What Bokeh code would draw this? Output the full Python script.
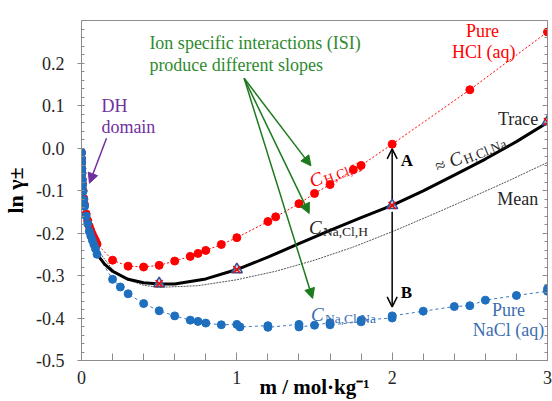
import math
from bokeh.plotting import figure
from bokeh.models import (LinearAxis, Range1d, Arrow, NormalHead, OpenHead,
                          SingleIntervalTicker, PrintfTickFormatter, CustomJSTickFormatter)
from bokeh.embed import file_html
from bokeh.resources import INLINE
from bokeh.core.properties import value

# ---------------- data ----------------
hcl_m = [0.0001, 0.0005, 0.001, 0.002, 0.003, 0.005, 0.007, 0.01, 0.015, 0.02, 0.03, 0.04,
         0.05, 0.06, 0.07, 0.08, 0.09, 0.1, 0.2, 0.3, 0.4, 0.5, 0.6, 0.7, 0.75, 0.8, 0.9,
         1.0, 1.2, 1.25, 1.4, 1.5, 1.6, 1.75, 1.8, 2.0, 2.5, 3.0]
hcl_ln = [-0.011, -0.025, -0.035, -0.049, -0.059, -0.074, -0.085, -0.100, -0.119, -0.134,
          -0.155, -0.171, -0.184, -0.194, -0.203, -0.211, -0.218, -0.226, -0.264, -0.278,
          -0.280, -0.276, -0.266, -0.255, -0.248, -0.241, -0.227, -0.211, -0.173, -0.162,
          -0.131, -0.107, -0.086, -0.051, -0.041, 0.009, 0.137, 0.273]

nacl_m = [0.0001, 0.0005, 0.001, 0.002, 0.003, 0.005, 0.007, 0.01, 0.015, 0.02, 0.03, 0.04,
          0.05, 0.06, 0.07, 0.08, 0.09, 0.1, 0.2, 0.25, 0.3, 0.4, 0.5, 0.6, 0.7, 0.75, 0.8,
          0.9, 1.0, 1.02, 1.2, 1.2, 1.4, 1.4, 1.5, 1.6, 1.6, 1.8, 1.8, 2.0, 2.0, 2.2, 2.4,
          2.5, 2.6, 2.8, 3.0, 3.0]
nacl_ln = [-0.011, -0.025, -0.035, -0.049, -0.059, -0.075, -0.087, -0.102, -0.122, -0.137,
           -0.160, -0.178, -0.196, -0.207, -0.217, -0.227, -0.237, -0.250, -0.309, -0.327,
           -0.343, -0.366, -0.383, -0.395, -0.405, -0.408, -0.412, -0.416, -0.415, -0.421,
           -0.418, -0.422, -0.415, -0.421, -0.417, -0.411, -0.416, -0.409, -0.405, -0.400,
           -0.395, -0.384, -0.373, -0.371, -0.358, -0.347, -0.337, -0.331]

trace_m = [0.0, 0.001, 0.002, 0.005, 0.01, 0.02, 0.05, 0.1, 0.15, 0.2, 0.3, 0.4, 0.5, 0.6,
           0.8, 1.0, 1.2, 1.4, 1.6, 1.8, 2.0, 2.2, 2.4, 2.6, 2.8, 3.0]
trace_ln = [0.0, -0.036, -0.049, -0.075, -0.102, -0.137, -0.196, -0.250, -0.274, -0.290,
            -0.309, -0.317, -0.320, -0.320, -0.308, -0.286, -0.257, -0.225, -0.194, -0.164,
            -0.135, -0.101, -0.064, -0.026, 0.015, 0.060]

mean_m = [0.0, 0.001, 0.002, 0.005, 0.01, 0.02, 0.05, 0.1, 0.2, 0.3, 0.4, 0.5, 0.75, 1.0,
          1.25, 1.5, 1.75, 2.0, 2.25, 2.5, 2.75, 3.0]
mean_ln = [0.0, -0.036, -0.049, -0.075, -0.101, -0.136, -0.190, -0.238, -0.286, -0.310,
           -0.323, -0.328, -0.324, -0.310, -0.290, -0.264, -0.233, -0.197, -0.158, -0.118,
           -0.077, -0.034]

marker_m = [0.5, 1.0, 2.0, 3.0]
marker_ln = [-0.319, -0.286, -0.135, 0.062]

x_label = "m / mol\u00b7kg\u207b\u00b9"
y_label = "ln \u03b3\u00b1"

# ---------------- style ----------------
FONT = "Liberation Serif"
RED = "#ff0000"
BLUE = "#1f6fbf"
BLUE_TXT = "#3c6db0"
GREEN = "#2e8b2e"
PURPLE = "#7030a0"
AXIS = "#8c8c8c"

p = figure(width=552, height=401, x_range=Range1d(0, 3), y_range=Range1d(-0.5, 0.3),
           output_backend="svg", toolbar_location=None,
           min_border_left=80, min_border_right=5, min_border_top=20, min_border_bottom=41,
           x_axis_type=None, y_axis_type=None)
p.grid.visible = False
p.outline_line_color = AXIS
p.background_fill_color = "white"
p.border_fill_color = "white"

def style_axis(ax):
    ax.axis_line_color = AXIS
    ax.major_tick_line_color = AXIS
    ax.minor_tick_line_color = AXIS
    ax.major_label_text_font = FONT
    ax.major_label_text_font_size = "18px"
    ax.major_label_text_color = "#262626"
    ax.axis_label_text_font = FONT
    ax.axis_label_text_font_style = "bold"
    ax.axis_label_text_color = "black"

xb = LinearAxis(ticker=SingleIntervalTicker(interval=1, num_minor_ticks=5),
                formatter=PrintfTickFormatter(format="%d"), axis_label=x_label)
style_axis(xb)
xb.major_tick_in = 8
xb.major_tick_out = 0
xb.minor_tick_in = 7
xb.minor_tick_out = 0
xb.major_label_standoff = 10
xb.axis_label_text_font_size = "21px"
xb.axis_label_standoff = -12
p.add_layout(xb, "below")

yl = LinearAxis(ticker=SingleIntervalTicker(interval=0.1, num_minor_ticks=5),
                formatter=PrintfTickFormatter(format="%.1f"), axis_label=y_label)
style_axis(yl)
yl.major_tick_in = 2
yl.major_tick_out = 4
yl.minor_tick_in = 3
yl.minor_tick_out = 0
yl.major_label_standoff = 13
yl.axis_label_text_font_size = "22px"
yl.axis_label_standoff = 5
p.add_layout(yl, "left")

yr = LinearAxis(ticker=SingleIntervalTicker(interval=0.1, num_minor_ticks=5),
                formatter=CustomJSTickFormatter(code="return ''"))
style_axis(yr)
yr.major_tick_in = 5
yr.major_tick_out = 0
yr.minor_tick_in = 3
yr.minor_tick_out = 0
yr.major_label_standoff = 0
yr.major_label_text_font_size = "1px"
p.add_layout(yr, "right")

# ---------------- curves ----------------
p.line(hcl_m, hcl_ln, line_color=RED, line_width=1, line_dash="2 2")
p.line(nacl_m, nacl_ln, line_color="#3a78c0", line_width=1, line_dash="3 3")
p.line(mean_m, mean_ln, line_color="#555555", line_width=1, line_dash="2 1")
p.line(trace_m, trace_ln, line_color="black", line_width=3)

p.scatter(hcl_m, hcl_ln, size=8, fill_color=RED, line_color=RED)
p.scatter(nacl_m, nacl_ln, size=8, fill_color=BLUE, line_color=BLUE)

p.scatter(marker_m, marker_ln, marker="triangle", size=11, fill_color="#9dc3e6",
          fill_alpha=0.6, line_color="#2f4f8f", line_width=1.5)
p.scatter(marker_m, marker_ln, marker="x", size=10, line_color=RED, line_width=1.5)

# ---------------- annotations ----------------
def txt(x, y, s, color, size, align="left", baseline="middle", style="normal",
        angle=0.0, xo=0.0, yo=0.0):
    p.text(x=[x], y=[y], text=[s], text_color=color, text_font=value(FONT),
           text_font_size=f"{size}px", text_align=align, text_baseline=baseline,
           text_font_style=style, angle=angle, x_offset=xo, y_offset=yo)

def csub(x, y, sub, color, angle_deg=0.0, lead=0.0, csize=19, ssize=13.5):
    th = math.radians(angle_deg)
    c, s = math.cos(th), math.sin(th)
    txt(x, y, "C", color, csize, baseline="alphabetic", style="italic", angle=th,
        xo=lead * c, yo=-lead * s)
    d = lead + 14
    dn = 4.0
    txt(x, y, sub, color, ssize, baseline="alphabetic", angle=th,
        xo=d * c + dn * s, yo=-d * s + dn * c)

# Pure HCl
txt(2.582, 0.275, "Pure", RED, 18, align="center")
txt(2.590, 0.225, "HCl (aq)", RED, 18, align="center")
# Pure NaCl
txt(2.749, -0.382, "Pure", BLUE_TXT, 18, align="center")
txt(2.749, -0.429, "NaCl (aq)", BLUE_TXT, 18, align="center")
# Trace / Mean
txt(2.941, 0.068, "Trace", "#262626", 18, align="right")
txt(2.941, -0.121, "Mean", "#262626", 18, align="right")
# ISI
txt(0.437, 0.246, "Ion specific interactions (ISI)", GREEN, 18)
txt(0.437, 0.195, "produce different slopes", GREEN, 18)
# DH
txt(0.128, 0.098, "DH", PURPLE, 18)
txt(0.128, 0.049, "domain", PURPLE, 18)
# A / B
txt(2.055, -0.029, "A", "black", 17, style="bold")
txt(2.055, -0.340, "B", "black", 17, style="bold")

# C labels
csub(1.471, -0.079, "H,Cl,H", RED, angle_deg=21)
csub(1.464, -0.187, "Na,Cl,H", "#262626")
csub(1.477, -0.392, "Na,Cl,Na", BLUE_TXT)
th = math.radians(22)
txt(2.28, -0.045, "\u2248", "#262626", 18, baseline="alphabetic", angle=th)
csub(2.28, -0.045, "H,Cl,Na", "#262626", angle_deg=22, lead=15)

# arrows
for (xe, ye) in [(1.477, -0.042), (1.466, -0.154), (1.488, -0.354)]:
    p.add_layout(Arrow(end=NormalHead(size=10, fill_color="#1e7a1e", line_color="#1e7a1e"),
                       x_start=1.047, y_start=0.164, x_end=xe, y_end=ye,
                       line_color="#1e7a1e", line_width=1.5))
p.add_layout(Arrow(end=NormalHead(size=10, fill_color=PURPLE, line_color=PURPLE),
                   x_start=0.161, y_start=0.023, x_end=0.051, y_end=-0.083,
                   line_color=PURPLE, line_width=1.5))
p.add_layout(Arrow(end=OpenHead(size=10, line_color="black", line_width=1.5),
                   x_start=2.0, y_start=-0.12, x_end=2.0, y_end=-0.002,
                   line_color="black", line_width=1.5))
p.add_layout(Arrow(end=OpenHead(size=10, line_color="black", line_width=1.5),
                   x_start=2.0, y_start=-0.15, x_end=2.0, y_end=-0.374,
                   line_color="black", line_width=1.5))

open("out.html", "w").write(file_html(p, INLINE))
